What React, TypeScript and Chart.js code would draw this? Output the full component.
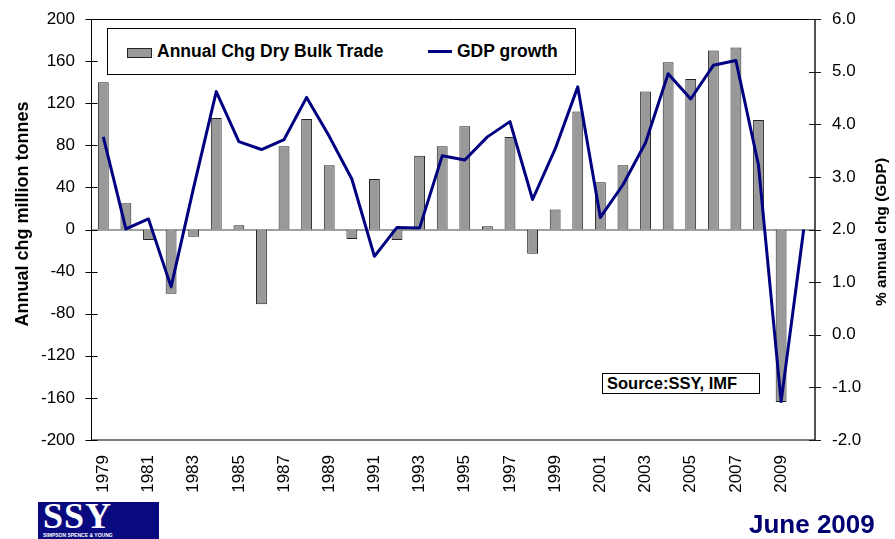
import React, { useEffect, useRef } from 'react';
import { Chart, registerables } from 'chart.js';

Chart.register(...registerables);

// ---- data ----
const years = [
  '1979', '1980', '1981', '1982', '1983', '1984', '1985', '1986', '1987', '1988',
  '1989', '1990', '1991', '1992', '1993', '1994', '1995', '1996', '1997', '1998',
  '1999', '2000', '2001', '2002', '2003', '2004', '2005', '2006', '2007', '2008',
  '2009', '2010',
];

// Annual change in dry bulk trade, million tonnes (left axis)
const dryBulkChange: (number | null)[] = [
  140, 25, -10, -61, -7, 106, 4, -71, 79, 105,
  61, -9, 48, -10, 70, 79, 98, 3, 88, -23,
  19, 112, 45, 61, 131, 159, 143, 170, 173, 104,
  -164, null,
];

// World GDP growth, % (right axis)
const gdpGrowth = [
  3.76, 2.01, 2.2, 0.91, 2.8, 4.62, 3.67, 3.52, 3.71, 4.51,
  3.77, 2.96, 1.49, 2.04, 2.03, 3.4, 3.32, 3.76, 4.05, 2.57,
  3.53, 4.71, 2.23, 2.85, 3.65, 4.96, 4.48, 5.12, 5.21, 3.22,
  -1.27, 2.0,
];

const leftTitle = 'Annual chg million tonnes';
const rightTitle = '% annual chg (GDP)';
const barLabel = 'Annual Chg Dry Bulk Trade';
const lineLabel = 'GDP growth';

const FONT = "'Liberation Sans', Arial, Helvetica, sans-serif";
const NAVY = '#000080';

export default function App() {
  const ref = useRef<HTMLCanvasElement | null>(null);

  useEffect(() => {
    document.body.style.margin = '0';
    const canvas = ref.current;
    if (!canvas) return;

    const framePlugin = {
      id: 'frame',
      beforeDatasetsDraw(chart: any) {
        const { ctx, chartArea: a, scales } = chart;
        const yL = scales.y;
        const yR = scales.y1;
        const seg = (x1: number, y1: number, x2: number, y2: number) => {
          ctx.beginPath();
          ctx.moveTo(x1, y1);
          ctx.lineTo(x2, y2);
          ctx.stroke();
        };
        ctx.save();
        // zero line
        const y0 = Math.round(yL.getPixelForValue(0));
        ctx.strokeStyle = '#808080';
        ctx.lineWidth = 1.5;
        seg(a.left, y0, a.right, y0);
        // bottom border
        ctx.lineWidth = 2;
        seg(a.left, a.bottom, a.right, a.bottom);
        // top border
        ctx.strokeStyle = '#000';
        ctx.lineWidth = 1;
        seg(a.left, Math.round(a.top) + 0.5, a.right, Math.round(a.top) + 0.5);
        // left axis
        const lx = Math.round(a.left) - 0.5;
        seg(lx, a.top, lx, a.bottom);
        yL.ticks.forEach((t: any) => {
          const p = Math.round(yL.getPixelForValue(t.value)) + 0.5;
          seg(lx - 6, p, lx + 6, p);
        });
        // right axis
        ctx.strokeStyle = '#1a1a1a';
        ctx.lineWidth = 1.5;
        const rx = Math.round(a.right);
        seg(rx, a.top, rx, a.bottom + 1);
        ctx.lineWidth = 1;
        yR.ticks.forEach((t: any) => {
          const p = Math.round(yR.getPixelForValue(t.value)) + 0.5;
          seg(rx - 6, p, rx + 6, p);
        });
        ctx.restore();
      },
      afterDraw(chart: any) {
        const { ctx } = chart;
        ctx.save();
        ctx.fillStyle = '#000';
        ctx.textAlign = 'center';
        ctx.textBaseline = 'alphabetic';
        ctx.font = `bold 18px ${FONT}`;
        ctx.translate(28, 214);
        ctx.rotate(-Math.PI / 2);
        ctx.fillText(leftTitle, 0, 0);
        ctx.restore();
        ctx.save();
        ctx.fillStyle = '#000';
        ctx.textAlign = 'center';
        ctx.textBaseline = 'alphabetic';
        ctx.font = `bold 15.5px ${FONT}`;
        ctx.translate(886, 232);
        ctx.rotate(-Math.PI / 2);
        ctx.fillText(rightTitle, 0, 0);
        ctx.restore();
      },
    };

    const chart = new Chart(canvas, {
      type: 'bar',
      data: {
        labels: years,
        datasets: [
          {
            type: 'line',
            label: lineLabel,
            data: gdpGrowth,
            yAxisID: 'y1',
            borderColor: NAVY,
            backgroundColor: NAVY,
            borderWidth: 3,
            borderJoinStyle: 'round',
            pointRadius: 0,
            tension: 0,
            order: 0,
          } as any,
          {
            type: 'bar',
            label: barLabel,
            data: dryBulkChange,
            yAxisID: 'y',
            backgroundColor: '#999999',
            borderColor: '#222222',
            borderWidth: 1,
            barPercentage: 0.48,
            categoryPercentage: 1,
            order: 1,
          } as any,
        ],
      },
      options: {
        responsive: false,
        animation: false,
        devicePixelRatio: 1,
        layout: { padding: { top: 19, left: 0, right: 0, bottom: 0 } },
        plugins: {
          legend: { display: false },
          tooltip: { enabled: false },
          title: { display: false },
        },
        scales: {
          x: {
            type: 'category',
            offset: true,
            grid: { display: false, drawTicks: false },
            border: { display: false },
            ticks: {
              autoSkip: false,
              maxRotation: 90,
              minRotation: 90,
              padding: 15,
              color: '#000',
              font: { family: FONT, size: 17 },
              callback: (_v: any, i: number) => (i % 2 === 0 ? years[i] : ''),
            },
            afterFit: (s: any) => {
              s.height = 99;
              s.paddingLeft = 0;
              s.paddingRight = 0;
            },
          },
          y: {
            position: 'left',
            min: -200,
            max: 200,
            grid: { display: false, drawTicks: false },
            border: { display: false },
            ticks: {
              stepSize: 40,
              padding: 17,
              color: '#000',
              font: { family: FONT, size: 17 },
            },
            afterFit: (s: any) => {
              s.width = 92;
              s.paddingTop = 0;
              s.paddingBottom = 0;
            },
          },
          y1: {
            position: 'right',
            min: -2,
            max: 6,
            grid: { display: false, drawTicks: false },
            border: { display: false },
            ticks: {
              stepSize: 1,
              padding: 17,
              color: '#000',
              font: { family: FONT, size: 17 },
              callback: (v: any) => Number(v).toFixed(1),
            },
            afterFit: (s: any) => {
              s.width = 80;
              s.paddingTop = 0;
              s.paddingBottom = 0;
            },
          },
        },
      } as any,
      plugins: [framePlugin],
    });

    return () => chart.destroy();
  }, []);

  return (
    <div style={{ position: 'fixed', left: 0, top: 0, width: 895, height: 539, background: '#fff', overflow: 'hidden' }}>
      <canvas ref={ref} width={895} height={539} style={{ position: 'absolute', left: 0, top: 0, width: 895, height: 539 }} />

      {/* legend */}
      <div
        style={{
          position: 'absolute', left: 107, top: 28, width: 469, height: 47,
          border: '1px solid #000', boxSizing: 'border-box', background: '#fff',
          fontFamily: FONT, fontWeight: 'bold', fontSize: 17.5, color: '#000',
        }}
      >
        <div style={{ position: 'absolute', left: 19, top: 19, width: 25, height: 10, background: '#999', border: '1px solid #222', boxSizing: 'border-box' }} />
        <div style={{ position: 'absolute', left: 49, top: 0, height: 45, lineHeight: '45px', whiteSpace: 'nowrap' }}>{barLabel}</div>
        <div style={{ position: 'absolute', left: 320, top: 21, width: 24, height: 3, background: NAVY }} />
        <div style={{ position: 'absolute', left: 349, top: 0, height: 45, lineHeight: '45px', whiteSpace: 'nowrap' }}>{lineLabel}</div>
      </div>

      {/* source box */}
      <div
        style={{
          position: 'absolute', left: 602, top: 373, width: 158, height: 21,
          border: '1px solid #000', boxSizing: 'border-box', background: '#fff',
          fontFamily: FONT, fontWeight: 'bold', fontSize: 16.5, lineHeight: '19px',
          paddingLeft: 4, whiteSpace: 'nowrap', color: '#000',
        }}
      >
        Source:SSY, IMF
      </div>

      {/* logo */}
      <div style={{ position: 'absolute', left: 38, top: 502, width: 121, height: 37, background: '#0a0a80', overflow: 'hidden' }}>
        <div
          style={{
            position: 'absolute', left: 5, top: -4, fontFamily: "'Liberation Serif', 'Times New Roman', serif",
            fontWeight: 'bold', fontSize: 36, lineHeight: '36px', color: '#fff', letterSpacing: 1,
          }}
        >
          SSY
        </div>
        <div
          style={{
            position: 'absolute', left: 5, top: 30, fontFamily: FONT, fontWeight: 'bold',
            fontSize: 5, lineHeight: '6px', color: '#fff', whiteSpace: 'nowrap',
          }}
        >
          SIMPSON SPENCE &amp; YOUNG
        </div>
      </div>

      {/* date */}
      <div
        style={{
          position: 'absolute', left: 749, top: 511, fontFamily: FONT, fontWeight: 'bold',
          fontSize: 26, lineHeight: '26px', color: '#000070', whiteSpace: 'nowrap',
        }}
      >
        June 2009
      </div>
    </div>
  );
}
